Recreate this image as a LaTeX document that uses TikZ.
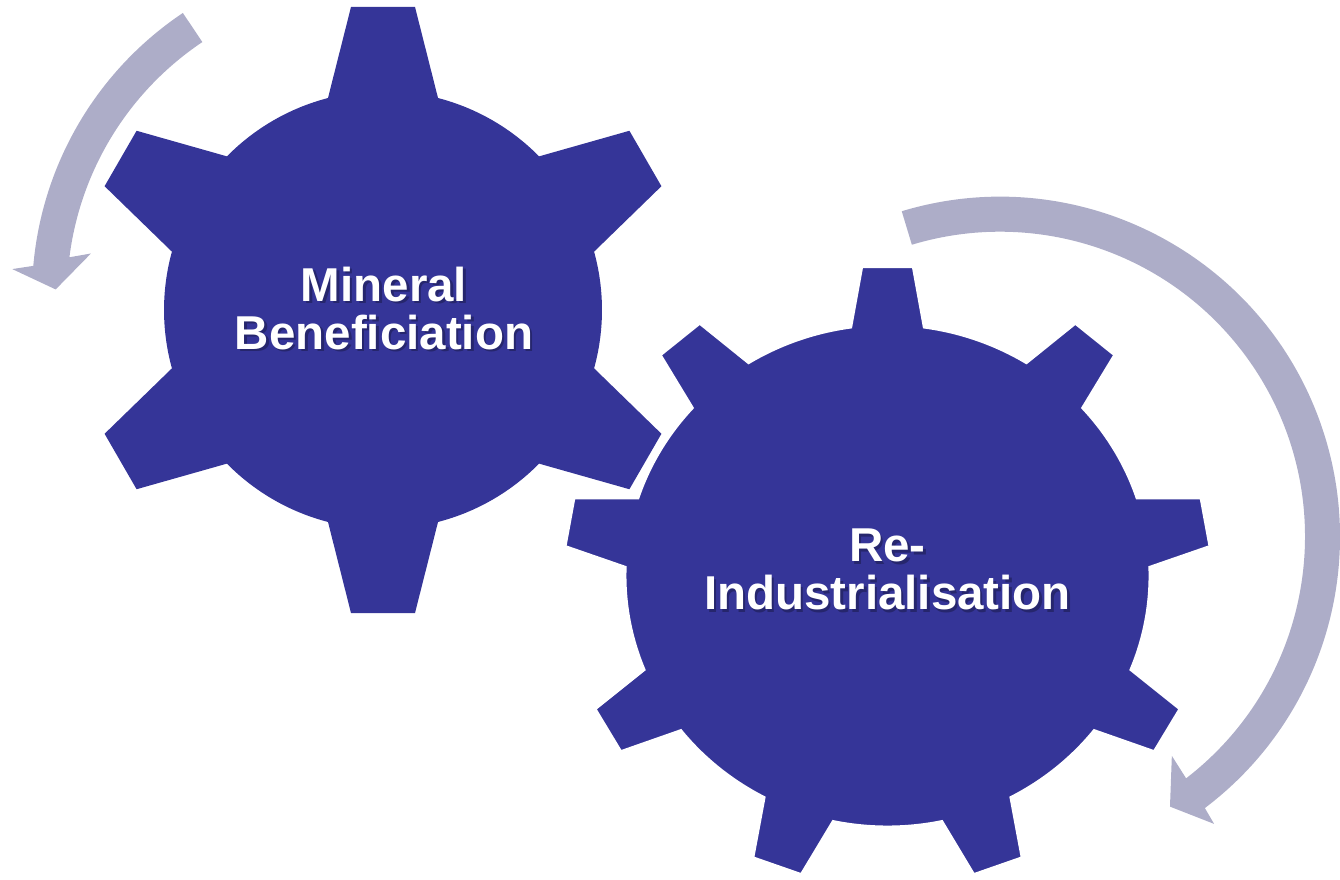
\documentclass[tikz,border=0pt]{standalone}
\usepackage{fontspec}
\setmainfont{Liberation Sans}
\definecolor{gearblue}{RGB}{53,53,152}
\definecolor{turngrey}{RGB}{173,173,200}

\begin{document}
\begin{tikzpicture}[x=1pt,y=1pt]
\tikzstyle{gearbody}=[fill=gearblue]
\tikzstyle{overgear}=[fill=gearblue,draw=white,line width=2.5pt]
\tikzstyle{turn}=[fill=turngrey]
\tikzstyle{geartext}=[text=white,font=\bfseries\fontsize{47.5}{48}\selectfont,align=center,inner sep=0pt]
\tikzstyle{gearshadow}=[geartext,text=black!80!gearblue,opacity=0.35]
\useasboundingbox (0,0) rectangle (1340,879);
% turning arrows
\begin{scope}[shift={(372,583.5)}]
\fill[turn] (123.8:340) arc[start angle=123.8, end angle=175, radius=340] -- (175.8:360.7) -- (178.9:316.4) -- (171.5:284.2) -- (172.8:305) arc[start angle=172.8, end angle=123.8, radius=305] -- cycle;
\end{scope}
\begin{scope}[shift={(1000,342.3)}]
\fill[turn] (106.8:340) arc[start angle=106.8, end angle=-52.95, radius=340] -- (-53.3:358.2) -- (-57.8:319) -- (-51.9:278.5) -- (-52.4:305) arc[start angle=-52.4, end angle=106.8, radius=305] -- cycle;
\end{scope}
% left gear, six teeth
\begin{scope}[shift={(383,569)}]
\fill[gearbody] (75.45:219) \foreach \a in {90,150,...,390} { -- (\a-6.03:304.7) -- (\a+6.03:304.7) -- (\a+14.55:219) arc[start angle=\a+14.55, end angle=\a+45.45, radius=219] } -- cycle;
\end{scope}
% right gear, nine teeth
\begin{scope}[shift={(887.5,303.2)},xscale=1.045]
\filldraw[overgear] (81.98:251) \foreach \a in {90,130,...,410} { -- (\a-4.54:309.8) -- (\a+4.54:309.8) -- (\a+8.02:251) arc[start angle=\a+8.02, end angle=\a+31.98, radius=251] } -- cycle;
\end{scope}
% labels
\node[gearshadow] (mineral-sh) at (386.5,568) {Mineral\\Beneficiation};
\node[geartext] (mineral) at (384,570.5) {Mineral\\Beneficiation};
\node[gearshadow] (reind-sh) at (890,306.8) {Re-\\Industrialisation};
\node[geartext] (reind) at (887.5,309.3) {Re-\\Industrialisation};
\end{tikzpicture}
\end{document}
